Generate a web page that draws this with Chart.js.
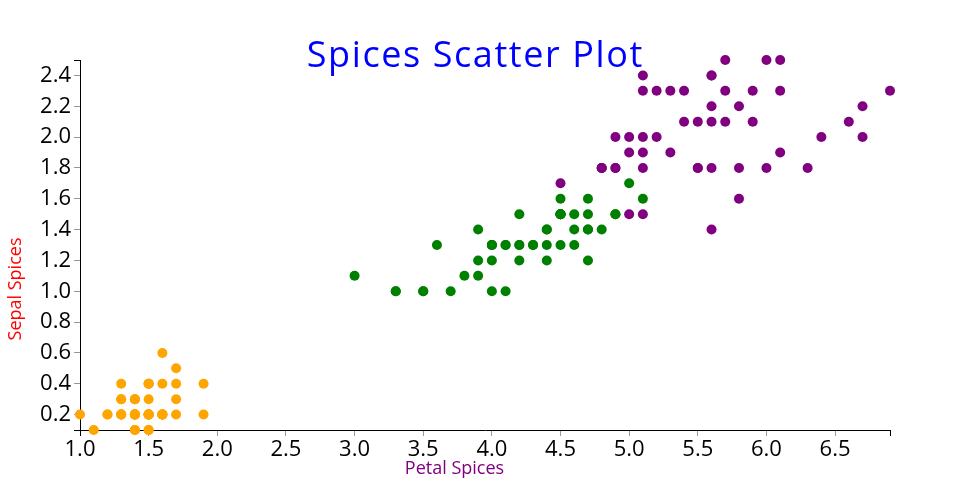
<!DOCTYPE html>
<html>
<head>
<meta charset="utf-8">
<script src="https://cdn.jsdelivr.net/npm/chart.js@4"></script>
<style>
html,body{margin:0;padding:0;background:#fff;}
#wrap{width:960px;height:500px;position:relative;}
</style>
</head>
<body>
<div id="wrap"><canvas id="c" width="960" height="500"></canvas></div>
<script>
// Petal length (x) and petal width (y) per species
const setosaX = [1.4,1.4,1.3,1.5,1.4,1.7,1.4,1.5,1.4,1.5,1.5,1.6,1.4,1.1,1.2,1.5,1.3,1.4,1.7,1.5,1.7,1.5,1.0,1.7,1.9,1.6,1.6,1.5,1.4,1.6,1.6,1.5,1.5,1.4,1.5,1.2,1.3,1.4,1.3,1.5,1.3,1.3,1.3,1.6,1.9,1.4,1.6,1.4,1.5,1.4];
const setosaY = [0.2,0.2,0.2,0.2,0.2,0.4,0.3,0.2,0.2,0.1,0.2,0.2,0.1,0.1,0.2,0.4,0.4,0.3,0.3,0.3,0.2,0.4,0.2,0.5,0.2,0.2,0.4,0.2,0.2,0.2,0.2,0.4,0.1,0.2,0.2,0.2,0.2,0.1,0.2,0.2,0.3,0.3,0.2,0.6,0.4,0.3,0.2,0.2,0.2,0.2];
const versicolorX = [4.7,4.5,4.9,4.0,4.6,4.5,4.7,3.3,4.6,3.9,3.5,4.2,4.0,4.7,3.6,4.4,4.5,4.1,4.5,3.9,4.8,4.0,4.9,4.7,4.3,4.4,4.8,5.0,4.5,3.5,3.8,3.7,3.9,5.1,4.5,4.5,4.7,4.4,4.1,4.0,4.4,4.6,4.0,3.3,4.2,4.2,4.2,4.3,3.0,4.1];
const versicolorY = [1.4,1.5,1.5,1.3,1.5,1.3,1.6,1.0,1.3,1.4,1.0,1.5,1.0,1.4,1.3,1.4,1.5,1.0,1.5,1.1,1.8,1.3,1.5,1.2,1.3,1.4,1.4,1.7,1.5,1.0,1.1,1.0,1.2,1.6,1.5,1.6,1.5,1.3,1.3,1.3,1.2,1.4,1.2,1.0,1.3,1.2,1.3,1.3,1.1,1.3];
const virginicaX = [6.0,5.1,5.9,5.6,5.8,6.6,4.5,6.3,5.8,6.1,5.1,5.3,5.5,5.0,5.1,5.3,5.5,6.7,6.9,5.0,5.7,4.9,6.7,4.9,5.7,6.0,4.8,4.9,5.6,5.8,6.1,6.4,5.6,5.1,5.6,6.1,5.6,5.5,4.8,5.4,5.6,5.1,5.9,5.7,5.2,5.0,5.2,5.4,5.1];
const virginicaY = [2.5,1.9,2.1,1.8,2.2,2.1,1.7,1.8,1.8,2.5,2.0,1.9,2.1,2.0,2.4,2.3,1.8,2.2,2.3,1.5,2.3,2.0,2.0,1.8,2.1,1.8,1.8,1.8,2.1,1.6,1.9,2.0,2.2,1.5,1.4,2.3,2.4,1.8,1.8,2.1,2.4,2.3,2.3,2.5,2.3,1.9,2.0,2.3,1.8];

const xTicks = [1.0,1.5,2.0,2.5,3.0,3.5,4.0,4.5,5.0,5.5,6.0,6.5,6.9];
const xTickLabels = ["1.0","1.5","2.0","2.5","3.0","3.5","4.0","4.5","5.0","5.5","6.0","6.5",""];
const yTicks = [0.1,0.2,0.4,0.6,0.8,1.0,1.2,1.4,1.6,1.8,2.0,2.2,2.4,2.5];
const yTickLabels = ["","0.2","0.4","0.6","0.8","1.0","1.2","1.4","1.6","1.8","2.0","2.2","2.4",""];

const titleText = "Spices Scatter Plot";
const xTitle = "Petal Spices";
const yTitle = "Sepal Spices";

const pts = (xs, ys) => xs.map((x, i) => ({x: x, y: ys[i]}));

function fitText(ctx, text, x, y, targetW) {
  ctx.letterSpacing = '0px';
  const w = ctx.measureText(text).width;
  const n = text.length;
  const ls = Math.max(0, (targetW - w) / n);
  ctx.letterSpacing = ls.toFixed(2) + 'px';
  ctx.fillText(text, x + ls / 2, y);
  ctx.letterSpacing = '0px';
}

const textPlugin = {
  id: 'texts',
  afterDraw(chart) {
    const ctx = chart.ctx;
    ctx.save();
    ctx.textAlign = 'center';
    ctx.textBaseline = 'alphabetic';
    ctx.fillStyle = '#0000ff';
    ctx.font = '36px "Open Sans"';
    fitText(ctx, titleText, 474.5, 67, 337);
    ctx.fillStyle = '#800080';
    ctx.font = '18px "Open Sans"';
    ctx.fillText(xTitle, 454.5, 474);
    ctx.translate(21, 289);
    ctx.rotate(-Math.PI / 2);
    ctx.fillStyle = '#ff0000';
    ctx.fillText(yTitle, 0, 0);
    ctx.restore();
  }
};

const tickColor = (ctx) => (ctx.index === 0 || ctx.index === ctx.scale.ticks.length - 1) ? '#000' : '#999';

new Chart(document.getElementById('c'), {
  type: 'scatter',
  data: {
    datasets: [
      {label: 'setosa', data: pts(setosaX, setosaY), backgroundColor: '#ffa500', borderWidth: 0, pointRadius: 5, order: 3, clip: false},
      {label: 'versicolor', data: pts(versicolorX, versicolorY), backgroundColor: '#008000', borderWidth: 0, pointRadius: 5, order: 2, clip: false},
      {label: 'virginica', data: pts(virginicaX, virginicaY), backgroundColor: '#800080', borderWidth: 0, pointRadius: 5, order: 1, clip: false}
    ]
  },
  options: {
    responsive: false,
    animation: false,
    layout: {padding: {top: 60, right: 70, left: 0, bottom: 0}},
    plugins: {legend: {display: false}, title: {display: false}, tooltip: {enabled: false}},
    scales: {
      x: {
        type: 'linear',
        min: 1.0, max: 6.9,
        afterFit(s) { s.height = 70; },
        afterBuildTicks(s) { s.ticks = xTicks.map(v => ({value: v})); },
        ticks: {
          autoSkip: false, maxRotation: 0, padding: 1,
          color: '#000', font: {family: '"Open Sans"', size: 22},
          callback: (v, i) => xTickLabels[i]
        },
        grid: {drawOnChartArea: false, drawTicks: true, tickLength: 6, tickColor: tickColor, tickWidth: 1},
        border: {display: true, color: '#000', width: 1}
      },
      y: {
        type: 'linear',
        min: 0.1, max: 2.5,
        afterFit(s) { s.width = 80; },
        afterBuildTicks(s) { s.ticks = yTicks.map(v => ({value: v})); },
        ticks: {
          autoSkip: false, padding: 3,
          color: '#000', font: {family: '"Open Sans"', size: 22},
          callback: (v, i) => yTickLabels[i]
        },
        grid: {drawOnChartArea: false, drawTicks: true, tickLength: 6, tickColor: tickColor, tickWidth: 1},
        border: {display: true, color: '#000', width: 1}
      }
    }
  },
  plugins: [textPlugin]
});
</script>
</body>
</html>
